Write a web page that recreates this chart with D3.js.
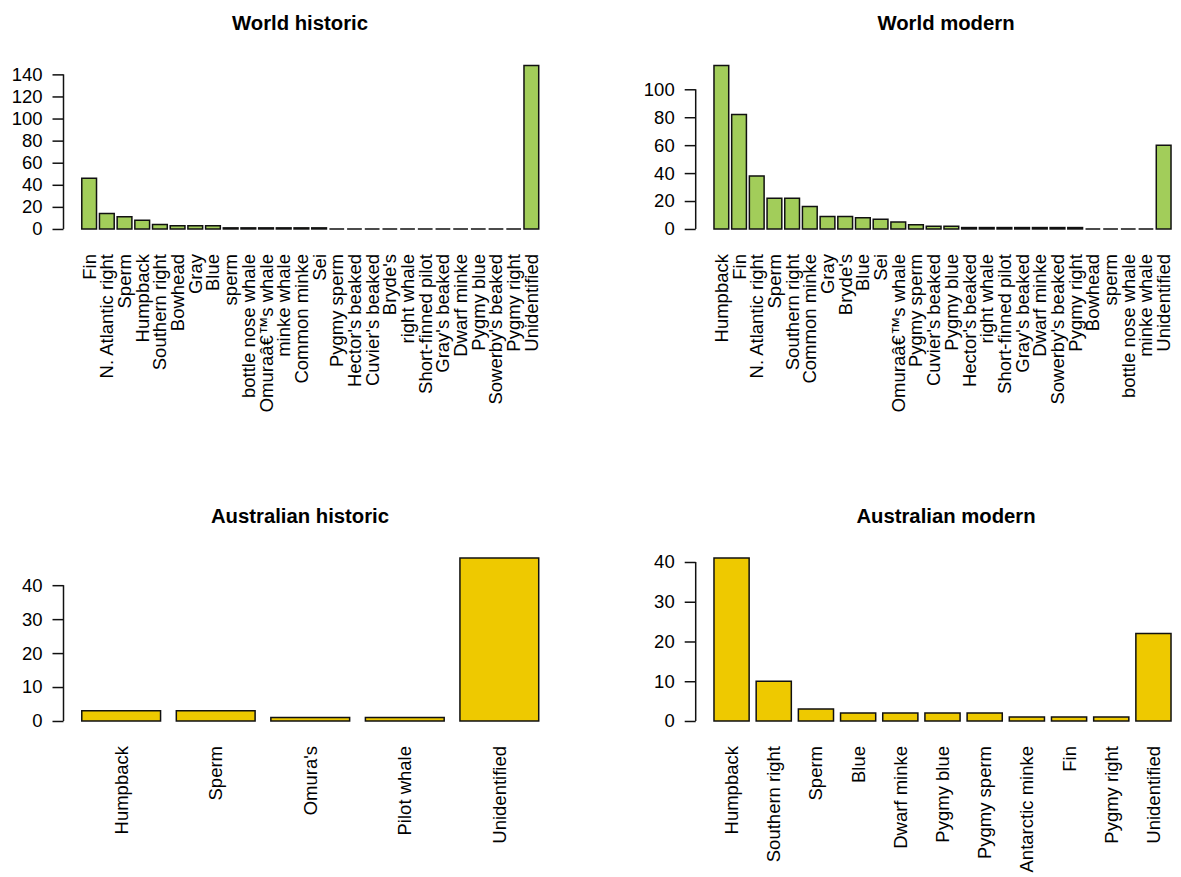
<!DOCTYPE html>
<html>
<head>
<meta charset="utf-8">
<script src="https://cdn.jsdelivr.net/npm/d3@7"></script>
<style>
  body { margin: 0; background: #fff; }
  text { font-family: "Liberation Sans", Arial, Helvetica, sans-serif; fill: #000; }
</style>
</head>
<body>
<div id="chart"></div>
<script>
// World historic
const worldHistoricSpecies = ["Fin", "N. Atlantic right", "Sperm", "Humpback", "Southern right", "Bowhead", "Gray", "Blue",
  "sperm", "bottle nose whale", "Omuraâ€™s whale", "minke whale", "Common minke", "Sei", "Pygmy sperm", "Hector's beaked",
  "Cuvier's beaked", "Bryde's", "right whale", "Short-finned pilot", "Gray's beaked", "Dwarf minke", "Pygmy blue",
  "Sowerby's beaked", "Pygmy right", "Unidentified"];
const worldHistoricCounts = [46, 14, 11, 8, 4, 3, 3, 3, 1, 1, 1, 1, 1, 1, 0, 0, 0, 0, 0, 0, 0, 0, 0, 0, 0, 148];
const worldHistoricTicks = [0, 20, 40, 60, 80, 100, 120, 140];

// World modern
const worldModernSpecies = ["Humpback", "Fin", "N. Atlantic right", "Sperm", "Southern right", "Common minke", "Gray",
  "Bryde's", "Blue", "Sei", "Omuraâ€™s whale", "Pygmy sperm", "Cuvier's beaked", "Pygmy blue", "Hector's beaked",
  "right whale", "Short-finned pilot", "Gray's beaked", "Dwarf minke", "Sowerby's beaked", "Pygmy right", "Bowhead",
  "sperm", "bottle nose whale", "minke whale", "Unidentified"];
const worldModernCounts = [117, 82, 38, 22, 22, 16, 9, 9, 8, 7, 5, 3, 2, 2, 1, 1, 1, 1, 1, 1, 1, 0, 0, 0, 0, 60];
const worldModernTicks = [0, 20, 40, 60, 80, 100];

// Australian historic
const ausHistoricSpecies = ["Humpback", "Sperm", "Omura's", "Pilot whale", "Unidentified"];
const ausHistoricCounts = [3, 3, 1, 1, 48];
const ausHistoricTicks = [0, 10, 20, 30, 40];

// Australian modern
const ausModernSpecies = ["Humpback", "Southern right", "Sperm", "Blue", "Dwarf minke", "Pygmy blue", "Pygmy sperm",
  "Antarctic minke", "Fin", "Pygmy right", "Unidentified"];
const ausModernCounts = [41, 10, 3, 2, 2, 2, 2, 1, 1, 1, 22];
const ausModernTicks = [0, 10, 20, 30, 40];

const green = "#a2cd5a";
const gold = "#eec900";

const width = 1181, height = 877;
const svg = d3.select("#chart").append("svg")
    .attr("width", width)
    .attr("height", height);

// plot regions (like par(mfrow=c(2,2)))
const cols = [
  { left: 63.5, right: 557, titleX: 300 },
  { left: 695.7, right: 1189.3, titleX: 946 }
];
const rows = [
  { top: 59, bottom: 235.5, titleY: 30 },
  { top: 551.5, bottom: 727.5, titleY: 523 }
];

function drawPanel(col, row, title, species, counts, ticks, fill) {
  const n = species.length;
  // barplot: bar width 1, space 0.2, axis range padded 4%
  const xr = [0.2, 1.2 * n];
  const xpad = 0.04 * (xr[1] - xr[0]);
  const x = d3.scaleLinear()
      .domain([xr[0] - xpad, xr[1] + xpad])
      .range([col.left, col.right]);
  const ymax = d3.max(counts);
  const y = d3.scaleLinear()
      .domain([-0.04 * ymax, 1.04 * ymax])
      .range([row.bottom, row.top]);

  const g = svg.append("g");

  // bars (paths so that zero counts still show as a line)
  g.selectAll("path.bar")
    .data(counts)
    .enter()
    .append("path")
      .attr("class", "bar")
      .attr("fill", fill)
      .attr("stroke", "#111")
      .attr("stroke-width", 1.5)
      .attr("d", function(d, i) {
        const x0 = x(0.2 + 1.2 * i), x1 = x(1.2 + 1.2 * i);
        return "M" + x0 + "," + y(0) + "V" + y(d) + "H" + x1 + "V" + y(0) + "Z";
      });

  // species labels, rotated
  g.selectAll("text.lab")
    .data(species)
    .enter()
    .append("text")
      .attr("class", "lab")
      .attr("font-size", "18.5px")
      .attr("text-anchor", "end")
      .attr("dy", "0.35em")
      .attr("transform", function(d, i) {
        return "translate(" + x(0.7 + 1.2 * i) + "," + (row.bottom + 18.5) + ") rotate(-90)";
      })
      .text(d => d);

  // y axis
  const ax = g.append("g")
      .attr("transform", "translate(" + col.left + ",0)")
      .call(d3.axisLeft(y).tickValues(ticks).tickSize(11).tickPadding(10).tickFormat(d3.format("d")));
  ax.select(".domain").remove();
  ax.selectAll(".tick line").attr("stroke", "#111").attr("stroke-width", 1.5);
  ax.selectAll(".tick text")
      .attr("font-size", "18.5px")
      .attr("font-family", "Liberation Sans, Arial, sans-serif")
      .attr("fill", "#000");
  g.append("line")
      .attr("x1", col.left).attr("x2", col.left)
      .attr("y1", y(0)).attr("y2", y(ticks[ticks.length - 1]))
      .attr("stroke", "#111")
      .attr("stroke-width", 1.5);

  // title
  g.append("text")
      .attr("x", col.titleX)
      .attr("y", row.titleY)
      .attr("text-anchor", "middle")
      .attr("font-size", "20.3px")
      .attr("font-weight", "bold")
      .text(title);
}

drawPanel(cols[0], rows[0], "World historic", worldHistoricSpecies, worldHistoricCounts, worldHistoricTicks, green);
drawPanel(cols[1], rows[0], "World modern", worldModernSpecies, worldModernCounts, worldModernTicks, green);
drawPanel(cols[0], rows[1], "Australian historic", ausHistoricSpecies, ausHistoricCounts, ausHistoricTicks, gold);
drawPanel(cols[1], rows[1], "Australian modern", ausModernSpecies, ausModernCounts, ausModernTicks, gold);
</script>
</body>
</html>
